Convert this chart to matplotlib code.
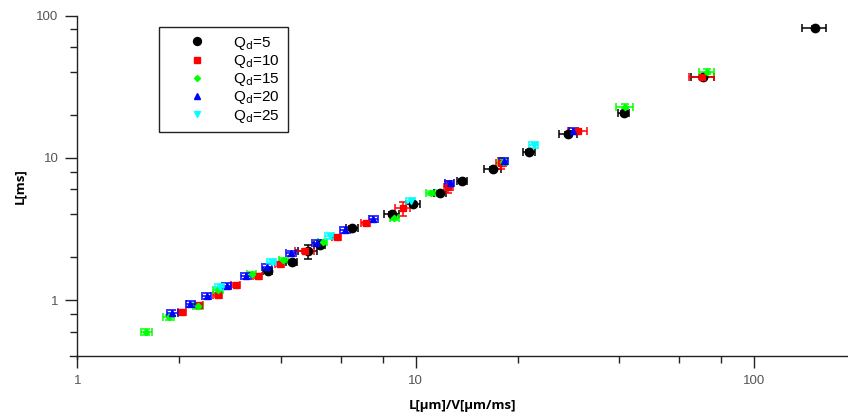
import matplotlib
matplotlib.use("Agg")
import matplotlib.pyplot as plt
from matplotlib.ticker import LogLocator, NullFormatter, FixedLocator, FixedFormatter
from matplotlib.lines import Line2D

# ---------------- data ----------------
labels = ["Q$_\\mathrm{d}$=5", "Q$_\\mathrm{d}$=10", "Q$_\\mathrm{d}$=15", "Q$_\\mathrm{d}$=20", "Q$_\\mathrm{d}$=25"]

x5 = [3.65, 4.30, 4.80, 5.20, 6.49, 8.50, 9.82, 11.8, 13.7, 16.9, 21.6, 28.2, 41.2, 70.6, 151.0]
y5 = [1.61, 1.86, 2.20, 2.45, 3.23, 4.03, 4.73, 5.66, 6.87, 8.36, 11.0, 14.7, 20.7, 37.0, 81.9]
xe5 = [0.12, 0.15, 0.30, 0.18, 0.25, 0.45, 0.45, 0.45, 0.50, 1.00, 0.90, 1.70, 1.50, 5.50, 12.0]
ye5 = [0.05, 0.06, 0.25, 0.08, 0.10, 0.15, 0.15, 0.18, 0.20, 0.25, 0.35, 0.45, 0.60, 1.10, 2.40]

x10 = [2.04, 2.29, 2.60, 2.94, 3.41, 3.97, 4.71, 5.84, 7.11, 9.15, 12.5, 17.9, 30.1, 70.0]
y10 = [0.82, 0.93, 1.09, 1.28, 1.48, 1.79, 2.21, 2.79, 3.47, 4.42, 6.27, 9.16, 15.5, 37.2]
xe10 = [0.06, 0.07, 0.08, 0.09, 0.10, 0.12, 0.30, 0.18, 0.22, 0.45, 0.40, 0.60, 2.00, 6.00]
ye10 = [0.03, 0.03, 0.03, 0.04, 0.05, 0.06, 0.07, 0.08, 0.10, 0.50, 0.60, 0.80, 0.50, 1.10]

x15 = [1.60, 1.86, 2.28, 2.61, 3.28, 4.06, 5.31, 8.65, 11.1, 18.1, 41.5, 72.4]
y15 = [0.60, 0.757, 0.91, 1.17, 1.52, 1.91, 2.57, 3.76, 5.64, 9.40, 22.9, 40.4]
xe15 = [0.06, 0.07, 0.08, 0.09, 0.10, 0.12, 0.16, 0.26, 0.35, 0.55, 2.30, 3.60]
ye15 = [0.03, 0.03, 0.04, 0.04, 0.05, 0.06, 0.08, 0.12, 0.18, 0.30, 1.00, 1.50]

x20 = [1.91, 2.16, 2.41, 2.76, 3.15, 3.63, 4.28, 5.10, 6.18, 7.50, 12.6, 18.2, 29.2]
y20 = [0.81, 0.94, 1.07, 1.26, 1.48, 1.70, 2.13, 2.53, 3.11, 3.70, 6.63, 9.55, 15.5]
xe20 = [0.07, 0.07, 0.08, 0.09, 0.10, 0.12, 0.14, 0.16, 0.20, 0.24, 0.40, 0.55, 0.90]
ye20 = [0.04, 0.05, 0.05, 0.06, 0.07, 0.08, 0.10, 0.12, 0.15, 0.18, 0.30, 0.45, 0.70]

x25 = [2.64, 3.75, 5.58, 9.66, 22.3]
y25 = [1.24, 1.86, 2.83, 5.00, 12.3]
xe25 = [0.08, 0.12, 0.17, 0.30, 0.70]
ye25 = [0.06, 0.08, 0.12, 0.22, 0.55]

xticks = [1, 10, 100]
xticklabels = ["1", "10", "100"]
yticks = [1, 10, 100]
yticklabels = ["1", "10", "100"]

series = [
    (x5, y5, xe5, ye5, "black", "o", 6.0),
    (x10, y10, xe10, ye10, "#ff0000", "s", 5.0),
    (x15, y15, xe15, ye15, "#00ff00", "D", 3.2),
    (x20, y20, xe20, ye20, "#0000ff", "^", 5.0),
    (x25, y25, xe25, ye25, "#00ffff", "v", 5.0),
]

# ---------------- figure ----------------
W, H = 848, 417
fig = plt.figure(figsize=(W / 100, H / 100), dpi=100)
left_px, bottom_px, top_px = 77.3, 355.7, 15.7
ax = fig.add_axes([left_px / W, (H - bottom_px) / H, (W - left_px) / W, (bottom_px - top_px) / H])

for xs, ys, xe, ye, c, m, ms in series:
    ax.errorbar(xs, ys, xerr=xe, yerr=ye, fmt=m, color=c, ms=ms, mec=c, mfc=c,
                elinewidth=1.1, capsize=3, capthick=1.1, ecolor=c, zorder=3)

ax.set_xscale("log")
ax.set_yscale("log")
ax.set_xlim(1, 10 ** ((W - left_px) / 338.4))
ax.set_ylim(10 ** (-(bottom_px - 300.1) / 142.2), 100)

ax.xaxis.set_major_locator(FixedLocator(xticks))
ax.xaxis.set_major_formatter(FixedFormatter(xticklabels))
ax.yaxis.set_major_locator(FixedLocator(yticks))
ax.yaxis.set_major_formatter(FixedFormatter(yticklabels))
ax.xaxis.set_minor_locator(LogLocator(base=10, subs=[2, 4, 6, 8]))
ax.yaxis.set_minor_locator(LogLocator(base=10, subs=[2, 4, 6, 8]))
ax.xaxis.set_minor_formatter(NullFormatter())
ax.yaxis.set_minor_formatter(NullFormatter())

for s in ["top", "right"]:
    ax.spines[s].set_visible(False)
for s in ["left", "bottom"]:
    ax.spines[s].set_linewidth(1.0)
    ax.spines[s].set_color("#222222")

ax.tick_params(which="major", direction="out", length=8.6, width=1.0, color="#222222",
               labelsize=9.5, labelcolor="#555555", pad=5)
ax.tick_params(which="minor", direction="out", length=5.0, width=1.0, color="#222222")
for lab in ax.get_xticklabels() + ax.get_yticklabels():
    lab.set_family("Liberation Sans")

# small overhangs of the axes at the origin
ax.plot([-7 / (W - left_px), 0], [0, 0], transform=ax.transAxes, color="#222222", lw=1.0, clip_on=False)
ax.plot([0, 0], [0, -3.5 / (bottom_px - top_px)], transform=ax.transAxes, color="#222222", lw=1.0, clip_on=False)

ax.set_xlabel("L[μm]/V[μm/ms]", fontsize=9.5, fontweight="bold", family="Open Sans", labelpad=9)
ax.set_ylabel("L[ms]", fontsize=9.5, fontweight="bold", family="Open Sans", labelpad=7)

handles = [Line2D([], [], linestyle="none", marker=m, color=c, mec=c, mfc=c, ms=ms * 0.95)
           for (_, _, _, _, c, m, ms) in series]
leg = ax.legend(handles, labels, loc="upper left",
                bbox_to_anchor=((159 - left_px) / (W - left_px), (bottom_px - 27) / (bottom_px - top_px)),
                frameon=True, fancybox=False, edgecolor="#222222", framealpha=1,
                prop={"family": "Liberation Sans", "size": 11}, handletextpad=0.37,
                borderpad=0.5, labelspacing=0.08, borderaxespad=0, handlelength=4.0)
leg.get_frame().set_linewidth(1.0)

fig.savefig("out.png", dpi=100)
